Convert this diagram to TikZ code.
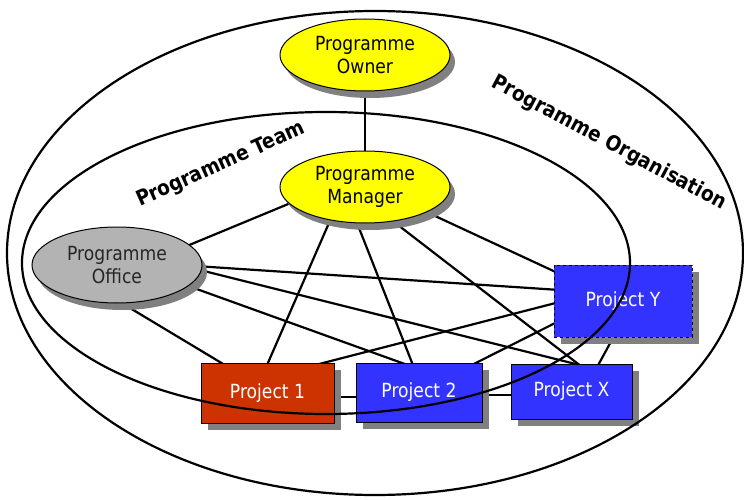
\documentclass[tikz,border=0pt]{standalone}
\usepackage{fontspec}
\setmainfont{DejaVu Sans}[FakeStretch=0.88]
\usetikzlibrary{shapes.geometric,shadows,calc,backgrounds}

\definecolor{roleYellow}{HTML}{FFFF00}
\definecolor{officeGrey}{HTML}{B3B3B3}
\definecolor{projRed}{HTML}{CC3300}
\definecolor{projBlue}{HTML}{3333FF}
\definecolor{shadowGrey}{HTML}{808080}

\tikzset{
  roleshape/.style={ellipse, draw=black, line width=1pt,
    minimum width=170pt, minimum height=72pt, inner sep=0pt, align=center,
    font=\fontsize{19.5}{23}\selectfont,
    drop shadow={shadow xshift=5pt, shadow yshift=-7pt, opacity=1, fill=shadowGrey}},
  projbox/.style={rectangle, draw=black, line width=0.9pt, inner sep=0pt,
    text=white, font=\fontsize{19.5}{23}\selectfont,
    drop shadow={shadow xshift=7pt, shadow yshift=-7pt, opacity=1, fill=shadowGrey}},
  link/.style={line width=2.2pt, black},
  boundary/.style={line width=2.2pt, black},
  grouplabel/.style={font=\bfseries\fontsize{21}{25}\selectfont, inner sep=0pt}
}

\begin{document}
\begin{tikzpicture}[x=1pt, y=-1pt]
  \useasboundingbox (0,0) rectangle (744,500);

  % roles
  \node[roleshape, fill=roleYellow] (owner) at (365,55) {Programme\\Owner};
  \node[roleshape, fill=roleYellow] (mgr) at (365,187) {Programme\\Manager};
  \node[roleshape, fill=officeGrey, minimum height=76pt, text=black!85] (office) at (117,265) {Programme\\Office};

  % projects
  \node[projbox, fill=projRed, minimum width=133pt, minimum height=60pt] (p1) at (267.5,393) {Project 1};
  \node[projbox, fill=projBlue, minimum width=126pt, minimum height=59pt] (p2) at (419,392.5) {Project 2};
  \node[projbox, fill=projBlue, minimum width=121pt, minimum height=55pt] (px) at (571.5,391.5) {Project X};
  \node[projbox, fill=projBlue, dashed, minimum width=138pt, minimum height=72pt] (py) at (623,301) {Project Y};

  % relationships, kept behind the nodes
  \begin{pgfonlayer}{background}
    \draw[link] (owner) -- (mgr);
    \draw[link] ($(office)+(53,-12)$) -- ($(mgr)+(-55,8)$);
    \draw[link] ($(mgr)+(-26,13)$) -- ($(p1)+(-7,-13)$);
    \draw[link] ($(mgr)+(-17,13)$) -- ($(p2)+(0,-12)$);
    \draw[link] ($(mgr)+(7,18)$) -- ($(px)+(21.6,-16)$);
    \draw[link] ($(mgr)+(55,22)$) -- ($(py)+(-48,-20)$);
    \draw[link] ($(office)+(63,0)$) -- ($(py)+(-48,-10)$);
    \draw[link] ($(office)+(63,0)$) -- ($(px)+(50,-16)$);
    \draw[link] ($(office)+(63,18)$) -- ($(p2)+(26,-14)$);
    \draw[link] ($(office)+(-7,31)$) -- ($(p1)+(-26,-18)$);
    \draw[link] ($(py)+(-48,-3)$) -- ($(p1)+(9,-18)$);
    \draw[link] ($(py)+(-48,12)$) -- ($(p2)+(32,-17)$);
    \draw[link] ($(py)+(-3,24)$) -- ($(px)+(21,-16)$);
    \draw[link] ($(p1)+(0,4)$) -- ($(p2)+(0,4.5)$);
    \draw[link] ($(p2)+(0,2.5)$) -- ($(px)+(0,3.5)$);
  \end{pgfonlayer}

  % organisation boundaries, drawn over everything
  \draw[boundary] (375,253) ellipse [x radius=368, y radius=242];
  \draw[boundary] (326,263) ellipse [x radius=304, y radius=151];

  \node[grouplabel, rotate=24] (teamlbl) at (221,165) {Programme Team};
  \node[grouplabel, rotate=-28] (orglbl) at (609,143) {Programme Organisation};
\end{tikzpicture}
\end{document}
